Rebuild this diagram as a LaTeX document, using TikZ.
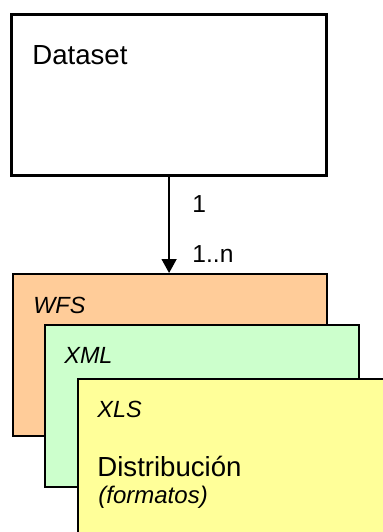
\documentclass[tikz,border=0pt]{standalone}
\usepackage{fontspec}
\setmainfont{Liberation Sans}
\usetikzlibrary{arrows.meta}
\definecolor{peach}{HTML}{FFCC99}
\definecolor{mint}{HTML}{CCFFCC}
\definecolor{paleyellow}{HTML}{FFFF99}

\begin{document}
\begin{tikzpicture}[x=0.5pt, y=-0.5pt,
    box/.style={draw=black, anchor=north west, inner sep=0pt,
                minimum width=157pt, minimum height=81pt},
    format/.style={box, line width=0.85pt},
    tag/.style={anchor=base west, inner sep=0pt}]
    % Fix the page size
    \useasboundingbox (0, 0) rectangle (383, 532);
    \clip (0, 0) rectangle (383, 532);

    % Draw the dataset box
    \node[box, line width=1.6pt, minimum width=157.5pt, minimum height=80.5pt] (dataset) at (10, 13) {};
    \node[tag, font=\fontsize{13.8}{16}\selectfont] (datasettext) at (32, 64) {Dataset};

    % Draw the stacked format boxes
    \node[format, fill=peach] (wfs) at (12, 273) {};
    \node[format, fill=mint] (xml) at (44, 324) {};
    \node[format, fill=paleyellow] (xls) at (77, 378) {};

    % Add the format names
    \node[tag, font=\fontsize{11.7}{14}\selectfont\itshape] (wfstext) at (33, 313) {WFS};
    \node[tag, font=\fontsize{11.7}{14}\selectfont\itshape] (xmltext) at (64, 363) {XML};
    \node[tag, font=\fontsize{11.7}{14}\selectfont\itshape] (xlstext) at (97, 417) {XLS};
    \node[tag, font=\fontsize{13.8}{16}\selectfont] (distr) at (97, 476) {Distribución};
    \node[tag, font=\fontsize{12}{14}\selectfont\itshape] (formatos) at (98, 503) {(formatos)};

    % Add the arrow with its multiplicities
    \draw[-{Triangle[length=7pt, width=7.5pt]}, line width=0.75pt] (dataset.south) -- (wfs.north -| dataset.south);
    \node[tag, font=\fontsize{12.3}{14}\selectfont] (one) at (192, 212) {1};
    \node[tag, font=\fontsize{12.3}{14}\selectfont] (many) at (192, 262) {1..n};
\end{tikzpicture}
\end{document}
